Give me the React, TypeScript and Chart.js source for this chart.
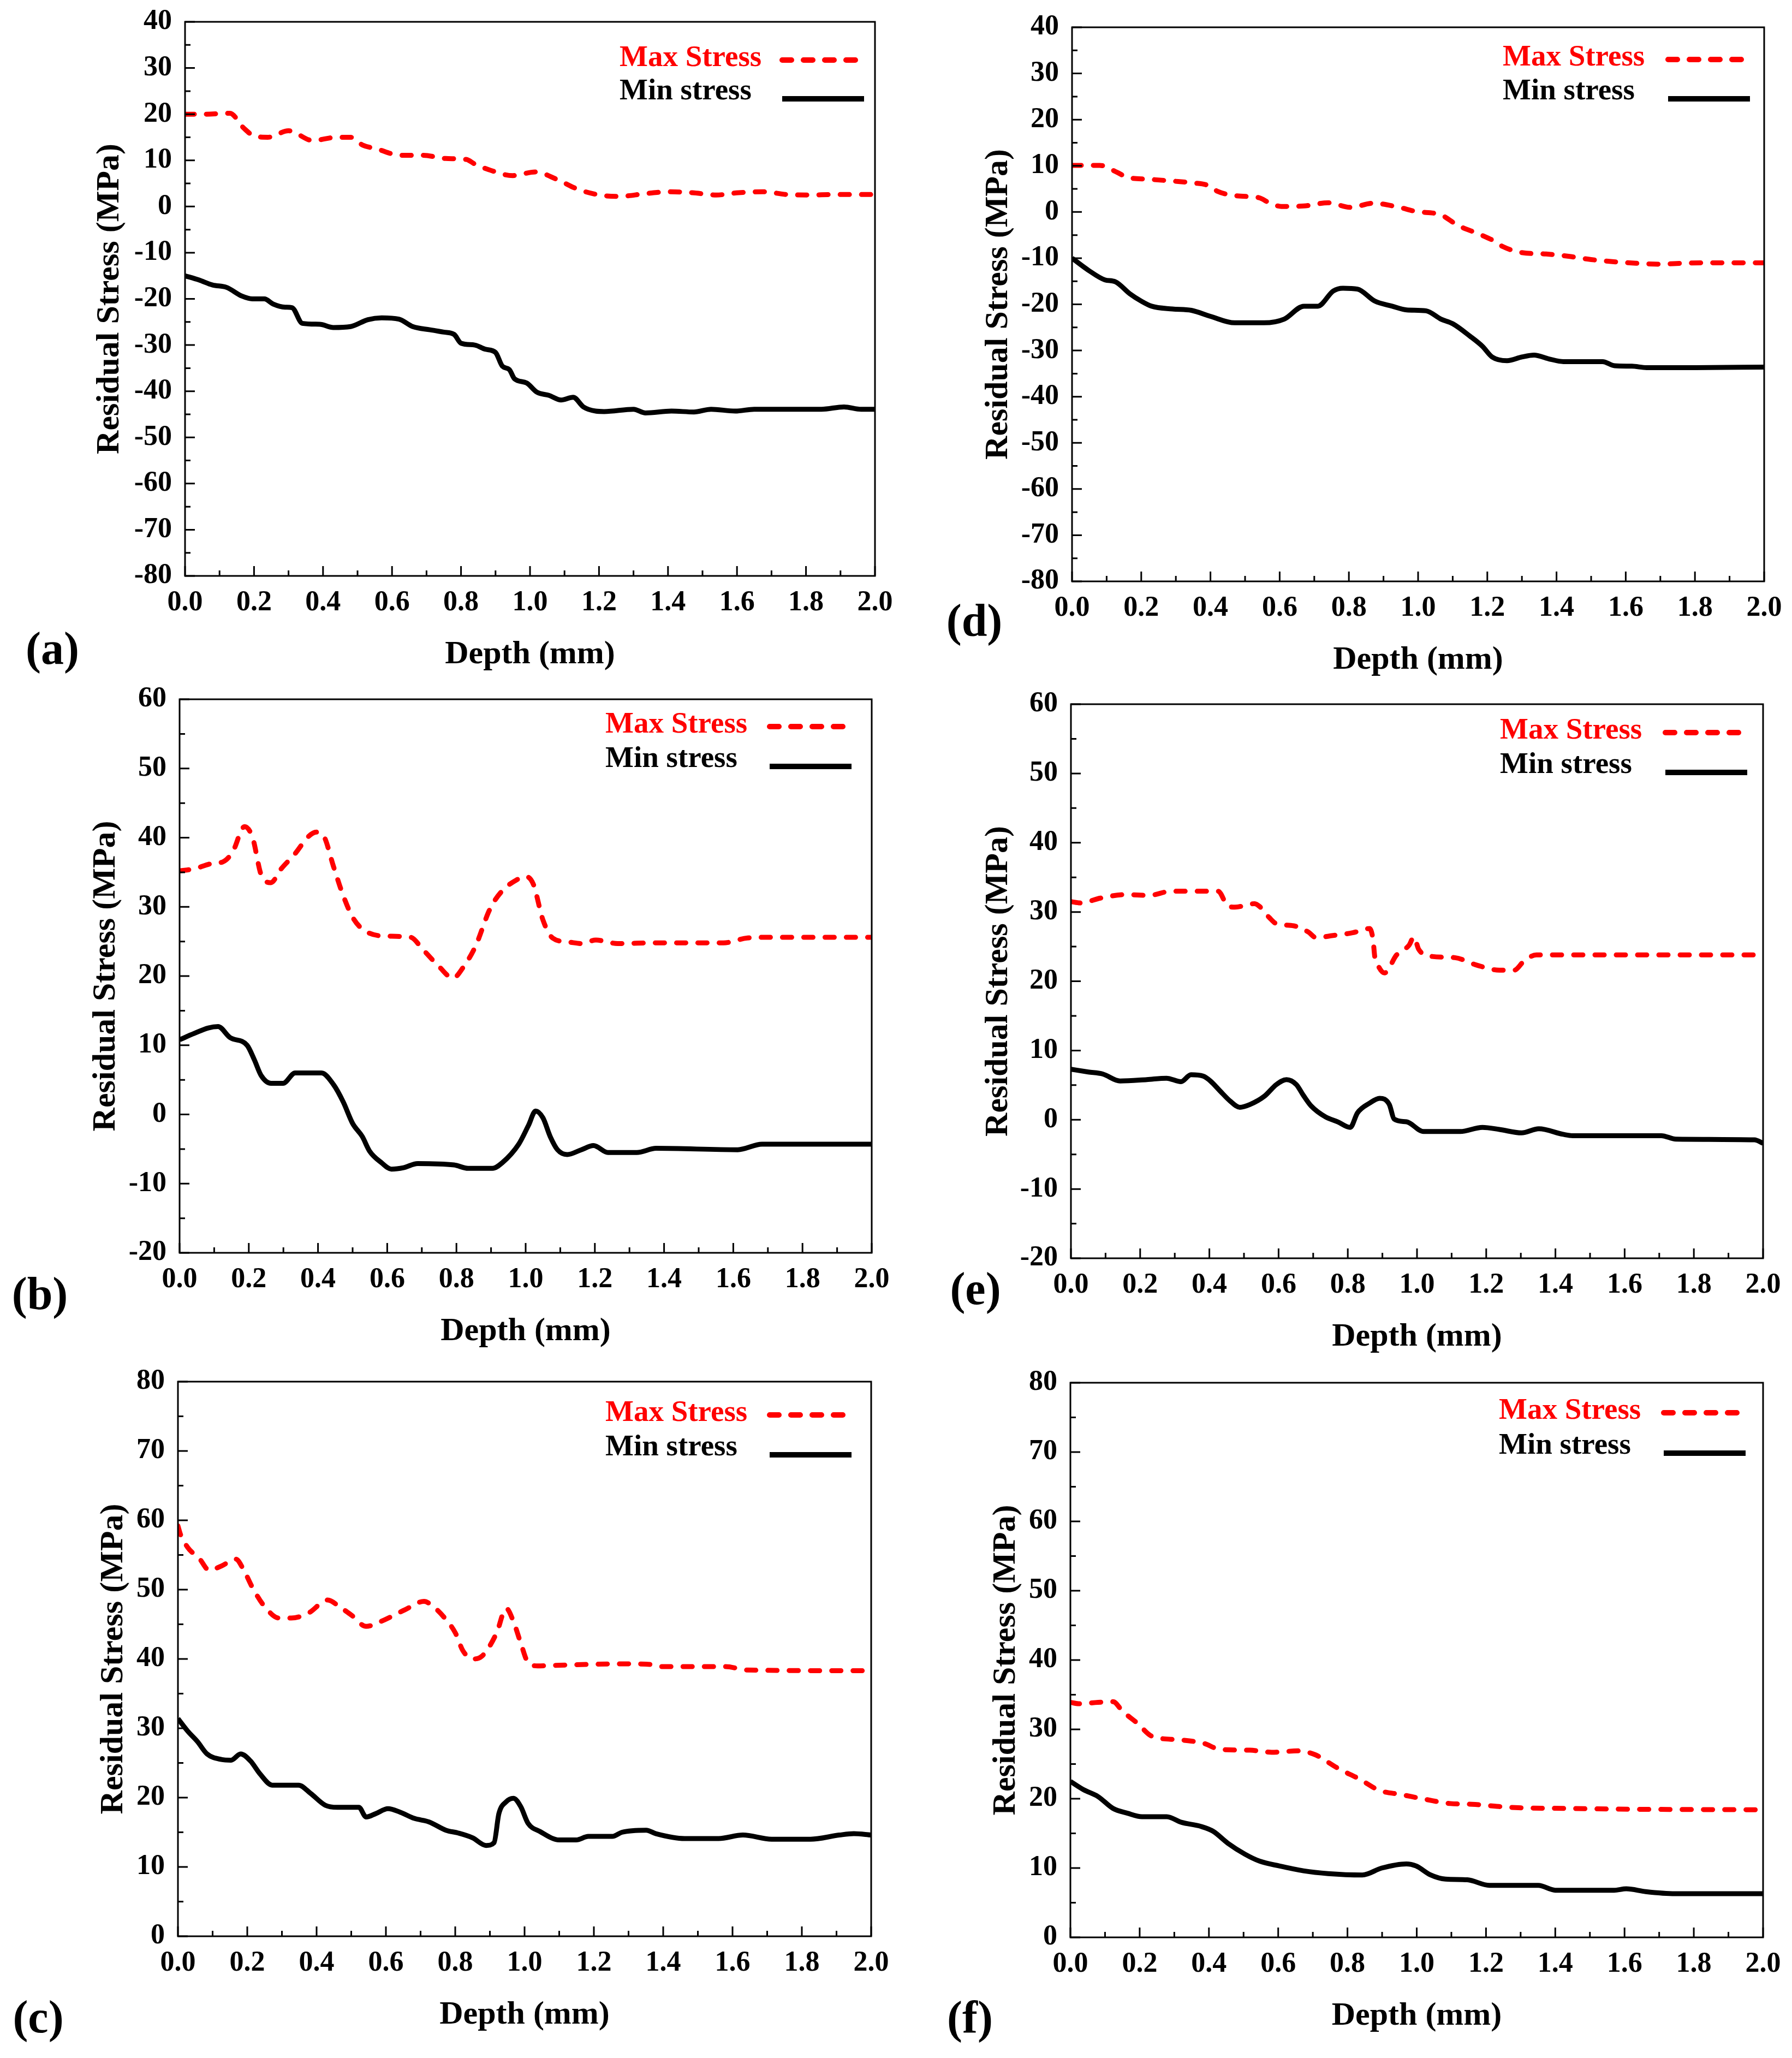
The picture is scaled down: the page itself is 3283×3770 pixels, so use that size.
import React, { useEffect, useRef } from "react";
import { Chart, registerables } from "chart.js";
Chart.register(...registerables);

// ---------- data ----------
const depthTicks = [0, 0.2, 0.4, 0.6, 0.8, 1.0, 1.2, 1.4, 1.6, 1.8, 2.0];
const yTicksAD = [-80, -70, -60, -50, -40, -30, -20, -10, 0, 10, 20, 30, 40];
const yTicksBE = [-20, -10, 0, 10, 20, 30, 40, 50, 60];
const yTicksCF = [0, 10, 20, 30, 40, 50, 60, 70, 80];
const seriesNames = ["Max Stress", "Min stress"];
const xTitle = "Depth (mm)";
const yTitle = "Residual Stress (MPa)";

const aMax = [[0,20],[0.06,20],[0.13,20.2],[0.17,17],[0.2,15.3],[0.24,15],[0.3,16.4],[0.37,14.3],[0.44,15],[0.48,15],[0.515,13.3],[0.555,12.5],[0.625,11.1],[0.69,11.1],[0.755,10.4],[0.815,10.2],[0.84,9.2],[0.88,8],[0.95,6.7],[1.015,7.5],[1.08,5.8],[1.14,3.7],[1.21,2.4],[1.26,2.2],[1.335,2.8],[1.405,3.2],[1.47,3.0],[1.54,2.5],[1.605,3.0],[1.675,3.2],[1.745,2.6],[1.81,2.5],[1.88,2.6],[1.95,2.6],[2.0,2.6]];
const aMin = [[0,-15],[0.04,-15.9],[0.08,-17],[0.12,-17.5],[0.165,-19.4],[0.195,-20],[0.23,-20],[0.255,-21.1],[0.29,-21.8],[0.31,-21.9],[0.34,-25.3],[0.39,-25.5],[0.43,-26.2],[0.48,-26],[0.53,-24.5],[0.57,-24.1],[0.62,-24.4],[0.66,-26],[0.71,-26.7],[0.75,-27.2],[0.78,-27.7],[0.8,-29.6],[0.84,-30],[0.87,-30.9],[0.9,-31.6],[0.92,-34.6],[0.94,-35.3],[0.955,-37.3],[0.99,-38.2],[1.02,-40.2],[1.055,-40.9],[1.09,-41.9],[1.125,-41.3],[1.155,-43.4],[1.19,-44.3],[1.215,-44.4],[1.3,-43.9],[1.335,-44.7],[1.41,-44.3],[1.475,-44.5],[1.525,-43.9],[1.595,-44.3],[1.65,-43.9],[1.845,-43.9],[1.91,-43.4],[1.96,-43.9],[2.0,-43.9]];

const bMax = [[0,35.2],[0.042,35.5],[0.097,36.3],[0.125,36.5],[0.153,37.9],[0.188,41.6],[0.211,40],[0.236,34.6],[0.264,33.5],[0.292,35.4],[0.334,37.7],[0.373,40.2],[0.396,40.8],[0.417,40.2],[0.445,35.8],[0.473,31.6],[0.5,28.5],[0.528,26.8],[0.584,25.8],[0.668,25.6],[0.702,23.9],[0.751,21.3],[0.79,19.7],[0.82,21.3],[0.855,24.3],[0.897,29.7],[0.932,32.3],[0.974,33.9],[1.0,34.4],[1.022,33.3],[1.05,28.1],[1.078,25.5],[1.127,24.9],[1.161,24.7],[1.203,25.2],[1.266,24.7],[1.377,24.8],[1.572,24.8],[1.641,25.5],[1.71,25.6],[2.0,25.6]];
const bMin = [[0,10.8],[0.042,11.7],[0.083,12.5],[0.111,12.7],[0.146,11.1],[0.195,10.0],[0.216,7.9],[0.236,5.6],[0.264,4.5],[0.299,4.5],[0.334,6.0],[0.41,6.0],[0.445,4.3],[0.473,1.8],[0.5,-1.3],[0.528,-3.2],[0.549,-5.3],[0.584,-7.0],[0.612,-7.9],[0.647,-7.7],[0.688,-7.1],[0.793,-7.3],[0.834,-7.8],[0.904,-7.8],[0.932,-7.0],[0.98,-4.3],[1.008,-1.6],[1.029,0.5],[1.05,-0.5],[1.071,-3.2],[1.092,-5.1],[1.12,-5.8],[1.161,-5.1],[1.196,-4.5],[1.238,-5.5],[1.321,-5.5],[1.377,-4.9],[1.613,-5.1],[1.683,-4.3],[2.0,-4.3]];

const cMax = [[0,59.2],[0.007,58.0],[0.028,56.1],[0.063,54.4],[0.09,52.8],[0.125,53.4],[0.167,54.4],[0.188,53.0],[0.216,50.2],[0.251,47.5],[0.292,45.9],[0.327,45.9],[0.376,46.6],[0.432,48.5],[0.467,47.5],[0.501,46.3],[0.543,44.7],[0.585,45.4],[0.655,47.1],[0.71,48.3],[0.738,47.5],[0.773,45.7],[0.801,43.7],[0.822,41.2],[0.85,40.0],[0.877,40.4],[0.919,43.7],[0.947,47.3],[0.968,45.4],[0.989,42.3],[1.01,39.5],[1.038,39.0],[1.1,39.1],[1.295,39.3],[1.365,39.2],[1.393,38.9],[1.58,38.9],[1.643,38.4],[2.0,38.3]];
const cMin = [[0,31.4],[0.028,29.6],[0.056,28.1],[0.084,26.3],[0.125,25.5],[0.153,25.4],[0.181,26.3],[0.209,25.3],[0.237,23.4],[0.272,21.8],[0.348,21.8],[0.383,20.6],[0.425,18.9],[0.46,18.6],[0.522,18.6],[0.543,17.2],[0.571,17.7],[0.606,18.4],[0.641,17.9],[0.682,17.0],[0.724,16.5],[0.773,15.3],[0.808,14.9],[0.85,14.2],[0.889,13.1],[0.912,13.5],[0.926,17.7],[0.947,19.4],[0.968,19.9],[0.989,18.7],[1.01,16.3],[1.045,15.1],[1.1,13.9],[1.149,13.9],[1.184,14.4],[1.253,14.4],[1.281,15.0],[1.351,15.3],[1.379,14.8],[1.462,14.1],[1.56,14.1],[1.63,14.6],[1.713,14.0],[1.825,14.0],[1.908,14.6],[1.95,14.8],[2.0,14.6]];

const dMax = [[0,10.1],[0.08,10.1],[0.13,8.6],[0.16,7.5],[0.22,7.1],[0.29,6.7],[0.35,6.3],[0.395,5.7],[0.42,4.5],[0.475,3.5],[0.54,3.1],[0.57,2.0],[0.605,1.2],[0.67,1.3],[0.74,2.0],[0.805,1.0],[0.87,1.9],[0.94,1.1],[0.995,0.1],[1.065,-0.6],[1.115,-2.9],[1.18,-4.9],[1.22,-6.3],[1.245,-7.5],[1.3,-8.8],[1.37,-9.1],[1.435,-9.6],[1.5,-10.3],[1.57,-10.8],[1.63,-11.1],[1.7,-11.3],[1.765,-11.1],[1.84,-11.0],[2.0,-11.0]];
const dMin = [[0,-10],[0.047,-12.6],[0.095,-14.7],[0.125,-15.1],[0.167,-17.7],[0.2,-19.3],[0.23,-20.4],[0.29,-21],[0.345,-21.3],[0.4,-22.6],[0.47,-24],[0.555,-24],[0.613,-23.2],[0.67,-20.4],[0.71,-20.4],[0.755,-17.1],[0.783,-16.5],[0.825,-16.7],[0.875,-19.3],[0.925,-20.4],[0.967,-21.2],[1.023,-21.4],[1.066,-23.2],[1.1,-24.2],[1.15,-26.9],[1.186,-29.1],[1.214,-31.4],[1.257,-32.2],[1.3,-31.4],[1.335,-31.0],[1.377,-31.8],[1.42,-32.4],[1.533,-32.4],[1.568,-33.3],[1.618,-33.4],[1.66,-33.7],[1.8,-33.7],[2.0,-33.6]];

const eMax = [[0,31.5],[0.028,31.3],[0.085,32.0],[0.156,32.5],[0.226,32.4],[0.29,33.0],[0.361,33.0],[0.425,33.0],[0.453,30.9],[0.474,30.7],[0.531,31.2],[0.545,30.8],[0.573,29.2],[0.594,28.3],[0.644,28.0],[0.686,27.1],[0.708,26.3],[0.757,26.6],[0.814,27.0],[0.863,27.6],[0.873,26.0],[0.878,23.5],[0.885,22.5],[0.906,21.2],[0.941,23.8],[0.977,25.2],[0.991,26.4],[1.005,24.6],[1.04,23.6],[1.11,23.4],[1.168,22.4],[1.238,21.6],[1.281,21.6],[1.309,22.9],[1.345,23.8],[2.0,23.8]];
const eMin = [[0,7.3],[0.05,6.9],[0.092,6.6],[0.142,5.6],[0.219,5.8],[0.276,6.0],[0.318,5.5],[0.347,6.5],[0.382,6.3],[0.403,5.6],[0.432,4.1],[0.46,2.7],[0.488,1.8],[0.517,2.2],[0.559,3.4],[0.594,5.1],[0.623,5.8],[0.651,5.1],[0.672,3.5],[0.694,2.0],[0.736,0.4],[0.771,-0.3],[0.807,-1.1],[0.828,1.0],[0.863,2.4],[0.892,3.1],[0.92,2.2],[0.934,0.1],[0.97,-0.3],[1.019,-1.7],[1.125,-1.7],[1.189,-1.1],[1.238,-1.4],[1.302,-1.9],[1.352,-1.3],[1.422,-2.1],[1.45,-2.3],[1.706,-2.3],[1.748,-2.8],[1.975,-2.9],[2.0,-3.4]];

const fMax = [[0,33.9],[0.024,33.7],[0.08,33.9],[0.123,34.0],[0.151,32.6],[0.193,30.9],[0.236,29.0],[0.313,28.5],[0.384,28.0],[0.433,27.1],[0.518,27.0],[0.581,26.7],[0.659,26.9],[0.709,26.3],[0.73,25.7],[0.772,24.4],[0.836,22.8],[0.892,21.2],[0.955,20.6],[1.026,19.9],[1.097,19.3],[1.16,19.2],[1.231,18.9],[1.294,18.7],[1.435,18.6],[1.577,18.5],[2.0,18.4]];
const fMin = [[0,22.5],[0.038,21.3],[0.08,20.3],[0.123,18.6],[0.165,17.9],[0.207,17.4],[0.278,17.4],[0.32,16.6],[0.377,16.0],[0.412,15.3],[0.454,13.6],[0.504,12.0],[0.546,11.0],[0.603,10.3],[0.673,9.6],[0.744,9.2],[0.843,9.0],[0.899,10.0],[0.97,10.6],[0.998,10.3],[1.04,9.0],[1.083,8.4],[1.146,8.3],[1.21,7.5],[1.351,7.5],[1.4,6.8],[1.57,6.8],[1.605,7.0],[1.661,6.6],[1.746,6.3],[2.0,6.3]];

// ---------- layout / style ----------
const FONT = '"Liberation Serif", "Times New Roman", serif';
const TICK_SIZE = 52;
const TITLE_SIZE = 60;
const LEGEND_SIZE = 55;
const LABEL_SIZE = 84;
const X_TITLE_OFF = 144;
const PAD_T = 70;
const PAD_R = 70;
const LINE_W = 9;
const RED = "#ff0000";
const BLACK = "#000000";

const PANELS = [
  { tag: "(a)", max: aMax, min: aMin, yTicks: yTicksAD, L: 339, R: 1603, T: 40, B: 1055, yTitleOff: 138, leg: { textLeft: 468, sampleRight: 20, maxY: 67, minY: 128 }, lab: { x: 96, y: 1188 } },
  { tag: "(b)", max: bMax, min: bMin, yTicks: yTicksBE, L: 329, R: 1597, T: 1281, B: 2295, yTitleOff: 135, leg: { textLeft: 488, sampleRight: 37, maxY: 47, minY: 110 }, lab: { x: 73, y: 2370 } },
  { tag: "(c)", max: cMax, min: cMin, yTicks: yTicksCF, L: 326, R: 1596, T: 2531, B: 3547, yTitleOff: 118, leg: { textLeft: 487, sampleRight: 36, maxY: 58, minY: 121 }, lab: { x: 70, y: 3695 } },
  { tag: "(d)", max: dMax, min: dMin, yTicks: yTicksAD, L: 1964, R: 3232, T: 50, B: 1065, yTitleOff: 135, leg: { textLeft: 479, sampleRight: 26, maxY: 56, minY: 118 }, lab: { x: 1785, y: 1137 } },
  { tag: "(e)", max: eMax, min: eMin, yTicks: yTicksBE, L: 1962, R: 3230, T: 1290, B: 2305, yTitleOff: 133, leg: { textLeft: 482, sampleRight: 29, maxY: 49, minY: 112 }, lab: { x: 1787, y: 2361 } },
  { tag: "(f)", max: fMax, min: fMin, yTicks: yTicksCF, L: 1961, R: 3230, T: 2533, B: 3549, yTitleOff: 118, leg: { textLeft: 484, sampleRight: 32, maxY: 52, minY: 116 }, lab: { x: 1777, y: 3696 } },
];

const midpoints = (arr: number[]) => arr.slice(1).map((v, i) => (v + arr[i]) / 2);

const frameTicks = {
  id: "frameTicks",
  afterDraw(chart: any) {
    const { ctx, chartArea: a, scales } = chart;
    const xs = scales.x;
    const ys = scales.y;
    const yt: number[] = chart.options.plugins.frameTicks.yTicks;
    ctx.save();
    ctx.strokeStyle = BLACK;
    ctx.lineWidth = 3;
    ctx.lineCap = "butt";
    ctx.setLineDash([]);
    ctx.beginPath();
    depthTicks.forEach((v) => {
      const p = xs.getPixelForValue(v);
      ctx.moveTo(p, a.bottom);
      ctx.lineTo(p, a.bottom - 18);
    });
    midpoints(depthTicks).forEach((v) => {
      const p = xs.getPixelForValue(v);
      ctx.moveTo(p, a.bottom);
      ctx.lineTo(p, a.bottom - 10);
    });
    yt.forEach((v) => {
      const p = ys.getPixelForValue(v);
      ctx.moveTo(a.left, p);
      ctx.lineTo(a.left + 18, p);
    });
    midpoints(yt).forEach((v) => {
      const p = ys.getPixelForValue(v);
      ctx.moveTo(a.left, p);
      ctx.lineTo(a.left + 10, p);
    });
    ctx.stroke();
    ctx.strokeRect(a.left, a.top, a.right - a.left, a.bottom - a.top);
    ctx.restore();
  },
};

const insideLegend = {
  id: "insideLegend",
  afterDraw(chart: any) {
    const o = chart.options.plugins.insideLegend;
    const { ctx, chartArea: a } = chart;
    const rows = [
      { ds: chart.data.datasets[0], y: a.top + o.maxY, dy: 3 },
      { ds: chart.data.datasets[1], y: a.top + o.minY, dy: 13 },
    ];
    ctx.save();
    ctx.font = `bold ${LEGEND_SIZE}px ${FONT}`;
    ctx.textBaseline = "middle";
    ctx.textAlign = "left";
    rows.forEach((r) => {
      ctx.fillStyle = r.ds.borderColor;
      ctx.fillText(r.ds.label, a.right - o.textLeft, r.y);
      ctx.beginPath();
      ctx.strokeStyle = r.ds.borderColor;
      ctx.lineWidth = 10;
      ctx.setLineDash(r.ds.borderDash || []);
      ctx.lineCap = r.ds.borderDash ? "round" : "butt";
      const x2 = a.right - o.sampleRight;
      ctx.moveTo(x2 - 150, r.y + r.dy);
      ctx.lineTo(x2, r.y + r.dy);
      ctx.stroke();
    });
    ctx.restore();
  },
};

function Panel({ cfg }: { cfg: any }) {
  const ref = useRef<HTMLCanvasElement>(null);
  const wy = cfg.yTitleOff + (TITLE_SIZE * 1.2) / 2;
  const hx = X_TITLE_OFF + (TITLE_SIZE * 1.2) / 2;
  const width = Math.round(wy + (cfg.R - cfg.L) + PAD_R);
  const height = Math.round(PAD_T + (cfg.B - cfg.T) + hx);
  const left = cfg.L - wy;
  const top = cfg.T - PAD_T;

  useEffect(() => {
    const yt: number[] = cfg.yTicks;
    const chart = new Chart(ref.current as HTMLCanvasElement, {
      type: "line",
      data: {
        datasets: [
          {
            label: seriesNames[0],
            data: cfg.max.map(([x, y]: number[]) => ({ x, y })),
            borderColor: RED,
            borderWidth: LINE_W,
            borderDash: [17, 22],
            borderCapStyle: "round",
            pointRadius: 0,
            fill: false,
            cubicInterpolationMode: "monotone",
          },
          {
            label: seriesNames[1],
            data: cfg.min.map(([x, y]: number[]) => ({ x, y })),
            borderColor: BLACK,
            borderWidth: LINE_W,
            borderJoinStyle: "round",
            pointRadius: 0,
            fill: false,
            cubicInterpolationMode: "monotone",
          },
        ],
      } as any,
      options: {
        animation: false,
        responsive: false,
        devicePixelRatio: 1,
        layout: { padding: { top: PAD_T, right: PAD_R, left: 0, bottom: 0 } },
        plugins: {
          legend: { display: false },
          tooltip: { enabled: false },
          frameTicks: { yTicks: yt },
          insideLegend: cfg.leg,
        } as any,
        scales: {
          x: {
            type: "linear",
            min: depthTicks[0],
            max: depthTicks[depthTicks.length - 1],
            afterBuildTicks: (s: any) => {
              s.ticks = depthTicks.map((v) => ({ value: v }));
            },
            afterFit: (s: any) => {
              s.height = hx;
            },
            grid: { display: false, drawTicks: false, tickLength: 0 },
            border: { display: false },
            ticks: {
              callback: (v: any) => Number(v).toFixed(1),
              font: { family: FONT, size: TICK_SIZE, weight: "bold" },
              color: BLACK,
              padding: 18,
              maxRotation: 0,
              autoSkip: false,
            },
            title: {
              display: true,
              text: xTitle,
              font: { family: FONT, size: TITLE_SIZE, weight: "bold" },
              color: BLACK,
              padding: 0,
            },
          },
          y: {
            type: "linear",
            min: yt[0],
            max: yt[yt.length - 1],
            afterBuildTicks: (s: any) => {
              s.ticks = yt.map((v) => ({ value: v }));
            },
            afterFit: (s: any) => {
              s.width = wy;
            },
            grid: { display: false, drawTicks: false, tickLength: 0 },
            border: { display: false },
            ticks: {
              callback: (v: any) => String(v),
              font: { family: FONT, size: TICK_SIZE, weight: "bold" },
              color: BLACK,
              padding: 24,
              autoSkip: false,
            },
            title: {
              display: true,
              text: yTitle,
              font: { family: FONT, size: TITLE_SIZE, weight: "bold" },
              color: BLACK,
              padding: 0,
            },
          },
        } as any,
      },
      plugins: [frameTicks, insideLegend] as any,
    });
    return () => chart.destroy();
  }, []);

  return (
    <canvas
      ref={ref}
      width={width}
      height={height}
      style={{ position: "absolute", left, top, width, height }}
    />
  );
}

export default function App() {
  return (
    <div
      style={{
        position: "absolute",
        left: 0,
        top: 0,
        width: 3283,
        height: 3770,
        background: "#ffffff",
        overflow: "hidden",
      }}
    >
      {PANELS.map((p) => (
        <React.Fragment key={p.tag}>
          <Panel cfg={p} />
          <div
            style={{
              position: "absolute",
              left: p.lab.x,
              top: p.lab.y,
              transform: "translate(-50%, -50%)",
              font: `bold ${LABEL_SIZE}px ${FONT}`,
              lineHeight: 1,
              color: BLACK,
              whiteSpace: "nowrap",
            }}
          >
            {p.tag}
          </div>
        </React.Fragment>
      ))}
    </div>
  );
}
